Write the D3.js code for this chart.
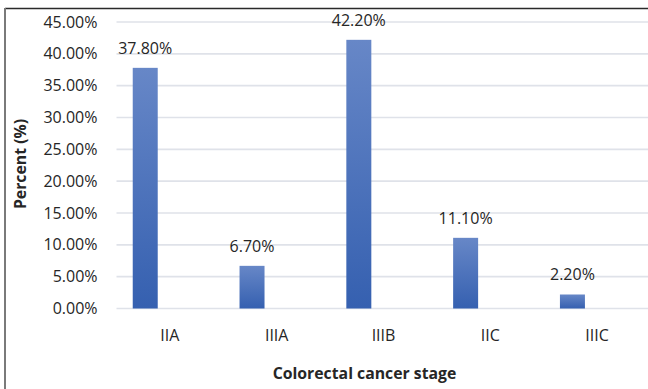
<!DOCTYPE html>
<html>
<head>
<meta charset="utf-8">
<script src="https://cdn.jsdelivr.net/npm/d3@7"></script>
<style>
  html, body { margin: 0; padding: 0; background: #fff; }
  svg { display: block; }
</style>
</head>
<body>
<svg id="chart" width="648" height="389"></svg>
<script>
// Share of patients by colorectal cancer stage
const stages = ["IIA", "IIIA", "IIIB", "IIC", "IIIC"];
const percents = [37.8, 6.7, 42.2, 11.1, 2.2];
const yTicks = [0, 5, 10, 15, 20, 25, 30, 35, 40, 45];
const xTitle = "Colorectal cancer stage";
const yTitle = "Percent (%)";

const W = 648, H = 389;
const svg = d3.select("#chart");
const font = "'Open Sans', 'Noto Sans', sans-serif";
const labelSize = 16;

svg.append("rect").attr("width", W).attr("height", H).attr("fill", "#fff");

// frame: top edge and left edge
svg.append("line").attr("x1", 5).attr("x2", W).attr("y1", 8.5).attr("y2", 8.5)
  .attr("stroke", "#2a2a2a").attr("stroke-width", 1.6);
svg.append("line").attr("x1", 5).attr("x2", 5).attr("y1", 8).attr("y2", H)
  .attr("stroke", "#7a7a7a").attr("stroke-width", 2);

const plot = { left: 116.5, right: 650.5, top: 22, bottom: 308.5 };

const x = d3.scaleBand().domain(stages).range([plot.left, plot.right]).padding(0);
const y = d3.scaleLinear().domain([0, 45]).range([plot.bottom, plot.top]);

// gradient for bars: lighter at top, deeper blue at bottom
const defs = svg.append("defs");
const grad = defs.append("linearGradient").attr("id", "barFill")
  .attr("x1", 0).attr("y1", 0).attr("x2", 0).attr("y2", 1);
grad.append("stop").attr("offset", "0%").attr("stop-color", "#6787c7");
grad.append("stop").attr("offset", "100%").attr("stop-color", "#3560b0");

// horizontal gridlines
svg.append("g").selectAll("line").data(yTicks).join("line")
  .attr("x1", plot.left).attr("x2", W)
  .attr("y1", d => y(d)).attr("y2", d => y(d))
  .attr("stroke", "#dfe2e9").attr("stroke-width", 1.6);

// y axis labels
const yAxis = d3.axisLeft(y).tickValues(yTicks).tickSize(0).tickPadding(0)
  .tickFormat(d => d.toFixed(2) + "%");
const gy = svg.append("g").attr("transform", `translate(${plot.left - 19},0)`).call(yAxis);
gy.select(".domain").remove();
gy.selectAll("text").attr("font-family", font).attr("font-size", labelSize)
  .attr("fill", "#262626");

// x axis labels
const xAxis = d3.axisBottom(x).tickSize(0).tickPadding(0);
const gx = svg.append("g").attr("transform", `translate(0,${plot.bottom})`).call(xAxis);
gx.select(".domain").remove();
gx.selectAll("text").attr("font-family", font).attr("font-size", labelSize)
  .attr("fill", "#262626").attr("dy", null).attr("y", 32);

// bars sit in the left part of each category slot
const barOffset = x.bandwidth() * 0.152;
const barWidth = x.bandwidth() * 0.234;
const data = stages.map((s, i) => ({ stage: s, value: percents[i] }));

svg.append("g").selectAll("rect").data(data).join("rect")
  .attr("x", d => x(d.stage) + barOffset)
  .attr("y", d => y(d.value))
  .attr("width", barWidth)
  .attr("height", d => y(0) - y(d.value))
  .attr("fill", "url(#barFill)");

// value labels above bars
svg.append("g").selectAll("text").data(data).join("text")
  .attr("x", d => x(d.stage) + barOffset + barWidth / 2)
  .attr("y", d => y(d.value) - 14)
  .attr("text-anchor", "middle")
  .attr("font-family", font).attr("font-size", labelSize).attr("fill", "#262626")
  .text(d => d.value.toFixed(2) + "%");

// axis titles
svg.append("text")
  .attr("x", 364.5).attr("y", 379)
  .attr("text-anchor", "middle")
  .attr("font-family", font).attr("font-size", 15.8).attr("font-weight", "bold")
  .attr("fill", "#262626")
  .text(xTitle);

svg.append("text")
  .attr("transform", "translate(25.5,164) rotate(-90)")
  .attr("text-anchor", "middle")
  .attr("font-family", font).attr("font-size", 15.8).attr("font-weight", "bold")
  .attr("fill", "#262626")
  .text(yTitle);
</script>
</body>
</html>
